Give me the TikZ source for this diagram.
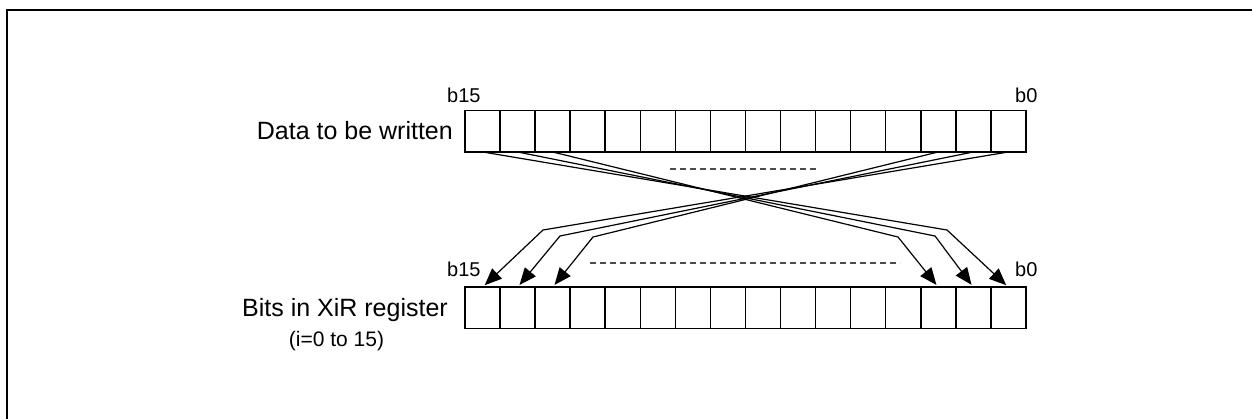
\documentclass[tikz,border=0pt]{standalone}
\usepackage{fontspec}
\setmainfont{Liberation Sans}
\usetikzlibrary{arrows.meta}
\begin{document}
\begin{tikzpicture}[x=1pt,y=-1pt,
  cell/.style={draw=black, line width=1.5pt, minimum width=35.06pt, minimum height=41.5pt, inner sep=0pt, outer sep=0pt},
  wire/.style={draw=black, line width=1.2pt},
  arrowwire/.style={wire, -{Triangle[length=17pt,width=14pt]}, shorten >=3pt},
  dotsline/.style={draw=black!70, line width=1.2pt, dash pattern=on 6pt off 4pt},
  lbl/.style={inner sep=0pt, font=\fontsize{25}{30}\selectfont},
  bitlbl/.style={inner sep=0pt, font=\fontsize{20}{24}\selectfont, anchor=base west}]
\useasboundingbox (0,0) rectangle (1252,419);
% frame
\draw[line width=2.7pt] (7,425) -- (7,10) -- (1260,10);
% registers
\foreach \k in {0,...,15} {
  \node[cell] (t\k) at ({465+35.06*\k+17.53},131.2) {};
  \node[cell] (b\k) at ({465+35.06*\k+17.53},308) {};
}
% labels
\node[lbl, anchor=base east] (datalbl) at (453,140) {Data to be written};
\node[lbl, anchor=base east] (bitslbl) at (448,317) {Bits in XiR register};
\node[inner sep=0pt, font=\fontsize{21}{25}\selectfont, anchor=base] (rangelbl) at (336.5,346.5) {(i=0 to 15)};
\node[bitlbl] (tb15) at (447,103) {b15};
\node[bitlbl] (tb0) at (1015,103) {b0};
\node[bitlbl] (bb15) at (447,277) {b15};
\node[bitlbl] (bb0) at (1015,277) {b0};
% bends
\coordinate (L1) at (543,230);
\coordinate (L2) at (560,236);
\coordinate (L3) at (593,237);
\coordinate (R1) at (947,230);
\coordinate (R2) at (935,236);
\coordinate (R3) at (898,237);
% connectors: b15..b13 of data -> b0..b2 of register
\draw[arrowwire] (t0.south) -- (R1) -- (b15.north);
\draw[arrowwire] (t1.south) -- (R2) -- (b14.north);
\draw[arrowwire] (t2.south) -- (R3) -- (b13.north);
\draw[arrowwire] (t15.south) -- (L1) -- (b0.north);
\draw[arrowwire] (t14.south) -- (L2) -- (b1.north);
\draw[arrowwire] (t13.south) -- (L3) -- (b2.north);
% dashed continuation marks
\coordinate (d1a) at (670,169);
\coordinate (d1b) at (818,169);
\coordinate (d2a) at (590,263);
\coordinate (d2b) at (900,263);
\draw[dotsline] (d1a) -- (d1b);
\draw[dotsline] (d2a) -- (d2b);
\end{tikzpicture}
\end{document}
